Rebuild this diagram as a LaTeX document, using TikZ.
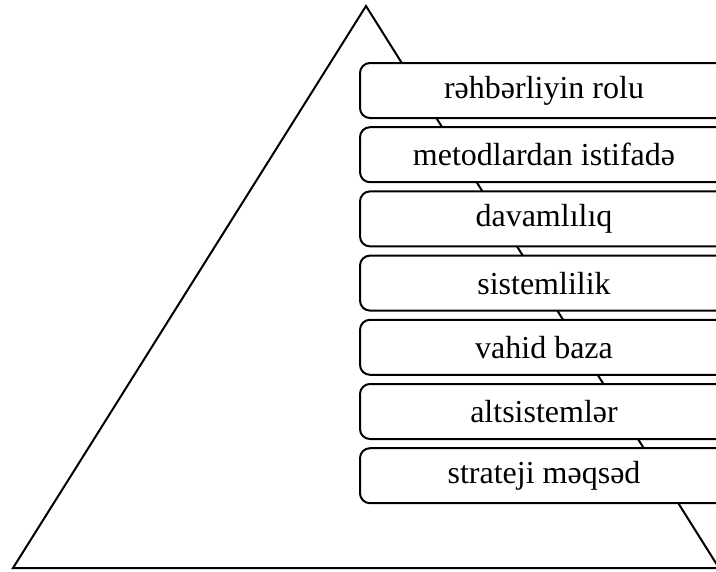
\documentclass[tikz,border=0pt]{standalone}
\usepackage{fontspec}
\setmainfont{Liberation Serif}
\begin{document}
\begin{tikzpicture}[x=0.75pt,y=-0.75pt,
  tri/.style={draw=black,line width=1.5pt,line join=miter},
  layer/.style={draw=black,fill=white,line width=1.5pt,rounded corners=7.5pt,
    minimum width=368*0.75pt,minimum height=55*0.75pt,inner sep=0pt,
    font=\fontsize{24}{28}\selectfont}]
\useasboundingbox (0,0) rectangle (716,571);
\clip (0,0) rectangle (716,571);
\coordinate (apex) at (366,6);
\coordinate (bl) at (13,568);
\coordinate (br) at (719,568);
\draw[tri] (apex) -- (bl) -- (br) -- cycle;
\node[layer] (l1) at (544,90.5) {rəhbərliyin rolu};
\node[layer] (l2) at (544,154.7) {metodlardan istifadə};
\node[layer] (l3) at (544,218.9) {davamlılıq};
\node[layer] (l4) at (544,283.1) {sistemlilik};
\node[layer] (l5) at (544,347.3) {vahid baza};
\node[layer] (l6) at (544,411.5) {altsistemlər};
\node[layer] (l7) at (544,475.7) {strateji məqsəd};
\end{tikzpicture}
\end{document}
